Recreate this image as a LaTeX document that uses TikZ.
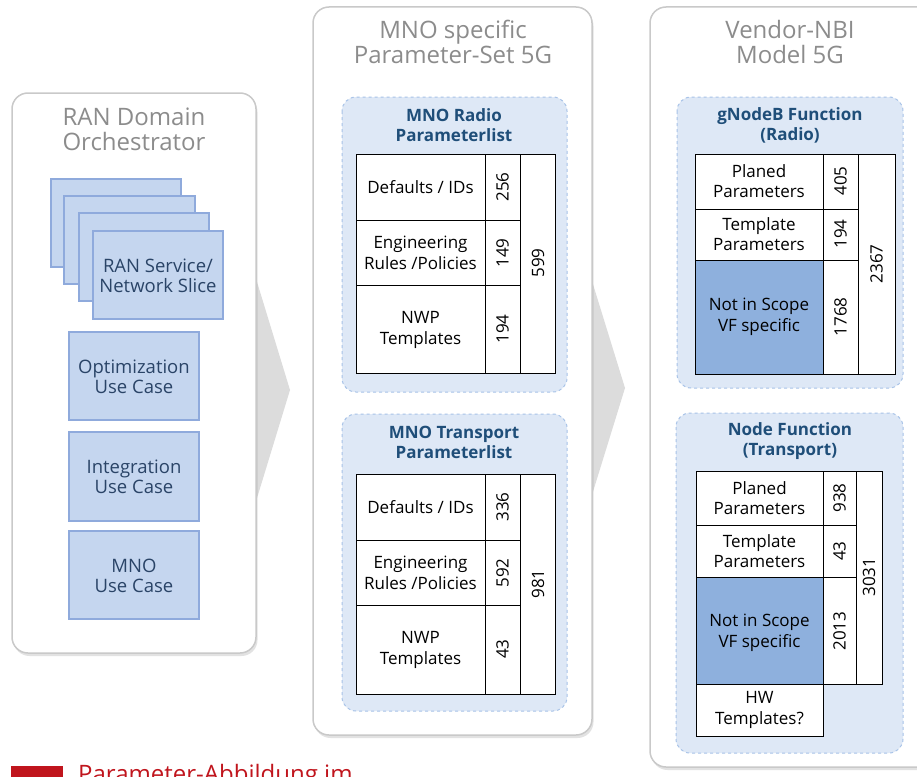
\documentclass[tikz,border=0pt]{standalone}
\usepackage{fontspec}
\setmainfont{Open Sans}
\usetikzlibrary{shadows}
\definecolor{panelborder}{HTML}{C9C9C9}
\definecolor{titlegray}{HTML}{8C8C8C}
\definecolor{chevgray}{HTML}{DCDCDC}
\definecolor{bluefill}{HTML}{C5D6EF}
\definecolor{blueline}{HTML}{8FAADC}
\definecolor{bluetext}{HTML}{2A4467}
\definecolor{dfill}{HTML}{DEE8F6}
\definecolor{dline}{HTML}{A8C3E8}
\definecolor{dtitle}{HTML}{1F4E79}
\definecolor{scopefill}{HTML}{8EB0DD}
\definecolor{redc}{HTML}{C0151D}
\begin{document}
\begin{tikzpicture}[x=1pt,y=-1pt,
  panel/.style={rounded corners=16pt, draw=panelborder, line width=1.5pt, fill=white,
     drop shadow={shadow xshift=1.5pt, shadow yshift=-3pt, opacity=0.25, fill=black!45}},
  ptitle/.style={text=titlegray, align=center, font=\fontsize{24}{25}\selectfont, inner sep=0pt},
  bluebox/.style={fill=bluefill, draw=blueline, line width=1.2pt},
  btext/.style={text=bluetext, align=center, font=\fontsize{18.5}{20.5}\selectfont, inner sep=0pt},
  dbox/.style={rounded corners=14pt, fill=dfill, draw=dline, dashed, line width=1pt},
  dtitletext/.style={text=dtitle, align=center, font=\fontsize{17}{20}\selectfont\bfseries, inner sep=0pt},
  cell/.style={draw=black, line width=0.9pt, fill=white},
  scell/.style={draw=black, line width=0.9pt, fill=scopefill},
  ctext/.style={text=black, align=center, font=\fontsize{17}{20.5}\selectfont, inner sep=0pt},
  ntext/.style={text=black, font=\fontsize{17}{20}\selectfont, inner sep=0pt, rotate=90}
]
\useasboundingbox (0,0) rectangle (917,776);

% chevrons behind panels
\fill[chevgray] (232,200) -- (290,390) -- (232,580) -- cycle;
\fill[chevgray] (567,200) -- (625,388) -- (567,576) -- cycle;

% panels
\path[panel] (12,93) rectangle (256,653);
\path[panel] (313,7) rectangle (592,735);
\path[panel] (650,7) rectangle (960,767);

\node[ptitle] (t1) at (134,129) {RAN Domain\\Orchestrator};
\node[ptitle] (t2) at (453,42) {MNO specific\\Parameter-Set 5G};
\node[ptitle] (t3) at (790,42) {Vendor-NBI\\Model 5G};

% stacked service boxes
\draw[bluebox] (51,179) rectangle (181,267);
\draw[bluebox] (64,196) rectangle (195,284);
\draw[bluebox] (79,213) rectangle (209,301);
\draw[bluebox] (93,231) rectangle (223,319);
\node[btext] (rs) at (158,276) {RAN Service/\\Network Slice};

\draw[bluebox] (69,332) rectangle (199,420);
\node[btext] (opt) at (134,377) {Optimization\\Use Case};
\draw[bluebox] (69,432) rectangle (199,521);
\node[btext] (intg) at (134,477) {Integration\\Use Case};
\draw[bluebox] (69,531) rectangle (199,619);
\node[btext] (mno) at (134,576) {MNO\\Use Case};

% dashed group boxes
\draw[dbox] (342,97) rectangle (567,392);
\node[dtitletext] (rt) at (454,125) {MNO Radio\\Parameterlist};
\draw[dbox] (342,414) rectangle (567,711);
\node[dtitletext] (tt) at (454,442) {MNO Transport\\Parameterlist};
\draw[dbox] (677,97) rectangle (903,388);
\node[dtitletext] (gt) at (790,125) {gNodeB Function\\(Radio)};
\draw[dbox] (676,413) rectangle (903,753);
\node[dtitletext] (nt) at (790,441) {Node Function\\(Transport)};

% Radio table
\draw[cell] (356,154) rectangle (485,220);
\draw[cell] (356,220) rectangle (485,285);
\draw[cell] (356,285) rectangle (485,373);
\draw[cell] (485,154) rectangle (520,220);
\draw[cell] (485,220) rectangle (520,285);
\draw[cell] (485,285) rectangle (520,373);
\draw[cell] (520,154) rectangle (555,373);
\node[ctext] (r1) at (420.5,187) {Defaults / IDs};
\node[ctext] (r2) at (420.5,253) {Engineering\\Rules /Policies};
\node[ctext] (r3) at (420.5,330) {NWP\\Templates};
\node[ntext] (r1n) at (502.5,187) {256};
\node[ntext] (r2n) at (502.5,253) {149};
\node[ntext] (r3n) at (502.5,329) {194};
\node[ntext] (rtot) at (538,263) {599};

% Transport table
\draw[cell] (356,474) rectangle (485,540);
\draw[cell] (356,540) rectangle (485,605);
\draw[cell] (356,605) rectangle (485,694);
\draw[cell] (485,474) rectangle (520,540);
\draw[cell] (485,540) rectangle (520,605);
\draw[cell] (485,605) rectangle (520,694);
\draw[cell] (520,474) rectangle (555,694);
\node[ctext] (p1) at (420.5,507) {Defaults / IDs};
\node[ctext] (p2) at (420.5,573) {Engineering\\Rules /Policies};
\node[ctext] (p3) at (420.5,650) {NWP\\Templates};
\node[ntext] (p1n) at (502.5,507) {336};
\node[ntext] (p2n) at (502.5,573) {592};
\node[ntext] (p3n) at (502.5,649) {43};
\node[ntext] (ptot) at (538,584) {981};

% gNodeB table
\draw[cell] (695,154) rectangle (823,209);
\draw[cell] (695,209) rectangle (823,260);
\draw[scell] (695,260) rectangle (823,374);
\draw[cell] (823,154) rectangle (858,209);
\draw[cell] (823,209) rectangle (858,260);
\draw[cell] (823,260) rectangle (858,374);
\draw[cell] (858,154) rectangle (895,374);
\node[ctext] (g1) at (759,181) {Planed\\Parameters};
\node[ctext] (g2) at (759,234) {Template\\Parameters};
\node[ctext] (g3) at (759,317) {Not in Scope\\VF specific};
\node[ntext] (g1n) at (840.5,181) {405};
\node[ntext] (g2n) at (840.5,234) {194};
\node[ntext] (g3n) at (840.5,317) {1768};
\node[ntext] (gtot) at (876.5,264) {2367};

% Node Function table
\draw[cell] (696,471) rectangle (823,525);
\draw[cell] (696,525) rectangle (823,577);
\draw[scell] (696,577) rectangle (823,684);
\draw[cell] (696,684) rectangle (823,736);
\draw[cell] (823,471) rectangle (856,525);
\draw[cell] (823,525) rectangle (856,577);
\draw[cell] (823,577) rectangle (856,684);
\draw[cell] (856,471) rectangle (882,684);
\node[ctext] (n1) at (759.5,498) {Planed\\Parameters};
\node[ctext] (n2) at (759.5,551) {Template\\Parameters};
\node[ctext] (n3) at (759.5,633) {Not in Scope\\VF specific};
\node[ctext] (n4) at (759.5,710) {HW\\Templates?};
\node[ntext] (n1n) at (839.5,498) {938};
\node[ntext] (n2n) at (839.5,551) {43};
\node[ntext] (n3n) at (839.5,631) {2013};
\node[ntext] (ntot) at (869,577) {3031};

% footer
\fill[redc] (11,766) rectangle (63,800);
\node[anchor=north west, inner sep=0pt, text=redc, font=\fontsize{24}{26}\selectfont] (foot) at (78,764) {Parameter-Abbildung im};
\end{tikzpicture}
\end{document}
